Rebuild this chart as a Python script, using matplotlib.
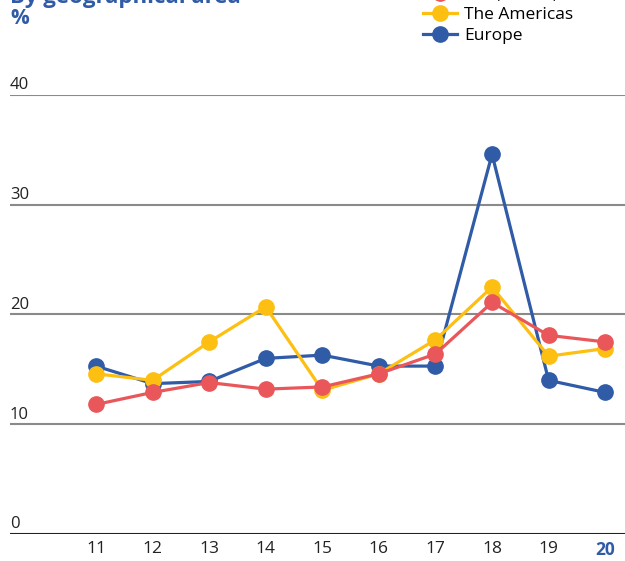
import matplotlib.pyplot as plt

plt.rcParams['font.family'] = ['Open Sans', 'DejaVu Sans']

years = [11, 12, 13, 14, 15, 16, 17, 18, 19, 20]
asia = [11.8, 12.9, 13.8, 13.2, 13.4, 14.6, 16.4, 21.1, 18.1, 17.5]
americas = [14.6, 14.0, 17.5, 20.7, 13.1, 14.6, 17.7, 22.5, 16.2, 16.9]
europe = [15.3, 13.7, 13.9, 16.0, 16.3, 15.3, 15.3, 34.6, 14.0, 12.9]
yticks = [0, 10, 20, 30, 40]

blue = '#2F5BA7'
yellow = '#FDBF12'
red = '#E9575A'

fig = plt.figure(figsize=(6.25, 5.61), dpi=100)
ax = fig.add_axes([0.016, 0.0481, 0.984, 0.7826])

l_eu, = ax.plot(years, europe, color=blue, lw=2.3, marker='o', ms=11, clip_on=False, zorder=3)
l_am, = ax.plot(years, americas, color=yellow, lw=2.3, marker='o', ms=11, clip_on=False, zorder=4)
l_as, = ax.plot(years, asia, color=red, lw=2.3, marker='o', ms=11, clip_on=False, zorder=5)

ax.set_xlim(9.48, 20.35)
ax.set_ylim(0, 40)
for v in yticks:
    ax.axhline(v, color='#222222' if v == 0 else '#8a8a8a', lw=1.5, zorder=1)
    ax.text(0.0, v + 0.15, str(v), transform=ax.get_yaxis_transform(),
            ha='left', va='bottom', fontsize=12, color='#222222')

ax.set_yticks([])
ax.set_xticks(years)
ax.set_xticklabels([str(y) for y in years], fontsize=12.5, color='#222222')
ax.get_xticklabels()[-1].set_color(blue)
ax.get_xticklabels()[-1].set_fontweight('bold')
ax.tick_params(axis='x', length=0, pad=5)
for s in ax.spines.values():
    s.set_visible(False)

fig.text(0.016, 1.005, 'By geographical area', ha='left', va='center',
         fontsize=16, fontweight='bold', color=blue)
fig.text(0.016, 0.967, '%', ha='left', va='center',
         fontsize=15, fontweight='bold', color=blue)

fig.legend([l_as, l_am, l_eu], ['Asia, Africa, Oceania', 'The Americas', 'Europe'],
           loc='upper left', bbox_to_anchor=(0.665, 1.036), frameon=False,
           fontsize=12.5, handlelength=2.0, handletextpad=0.4, labelspacing=0.25,
           borderaxespad=0)

fig.savefig('out.png', dpi=100)
